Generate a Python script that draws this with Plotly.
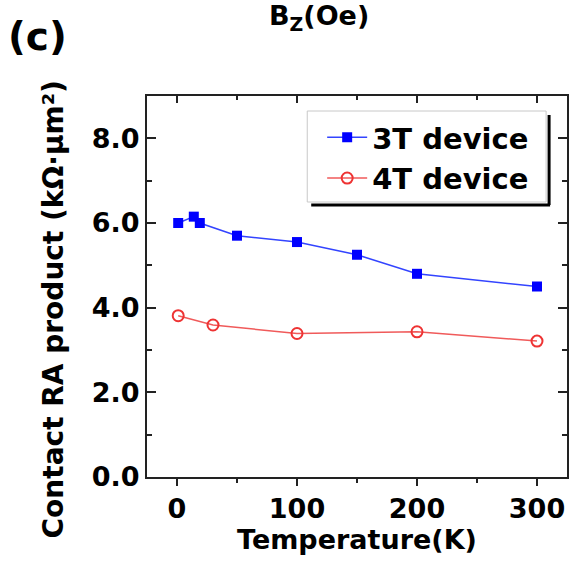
import plotly.graph_objects as go

# Data
t3_temp = [1, 14, 19, 50, 100, 150, 200, 300]
t3_ra = [6.0, 6.15, 6.0, 5.7, 5.55, 5.25, 4.8, 4.5]
t4_temp = [1, 30, 100, 200, 300]
t4_ra = [3.81, 3.59, 3.39, 3.43, 3.21]

x_range = [-25, 325]
y_range = [0, 9]

FONT = "DejaVu Sans"

fig = go.Figure()
fig.add_trace(go.Scatter(
    x=t3_temp, y=t3_ra, mode="lines+markers", name="3T device",
    line=dict(color="#3344ff", width=1.5),
    marker=dict(symbol="square", size=10, color="#0000ff"),
))
fig.add_trace(go.Scatter(
    x=t4_temp, y=t4_ra, mode="lines+markers", name="4T device",
    line=dict(color="#f05a5a", width=1.5),
    marker=dict(symbol="circle-open", size=11, color="#ee3333", line=dict(width=2)),
))
# invisible trace so that the top (mirror) x axis is drawn
fig.add_trace(go.Scatter(
    x=t3_temp, y=t3_ra, xaxis="x2", yaxis="y", mode="markers",
    marker=dict(opacity=0), showlegend=False, hoverinfo="skip",
))

L, R, T, B = 147, 2, 96, 86
W, H = 571, 563
pw = W - L - R
ph = H - T - B

def px2x(p):
    return (p - L) / pw

def px2y(p):
    return (H - B - p) / ph

fig.update_layout(
    width=W, height=H,
    margin=dict(l=L, r=R, t=T, b=B),
    paper_bgcolor="white", plot_bgcolor="white",
    font=dict(family=FONT, color="black", weight="bold"),
    showlegend=True,
    legend=dict(
        x=px2x(323), y=px2y(112), xanchor="left", yanchor="top",
        bgcolor="rgba(0,0,0,0)", borderwidth=0,
        font=dict(size=29, family=FONT, weight="bold"),
        itemwidth=40, tracegroupgap=0,
    ),
    xaxis=dict(
        range=x_range, dtick=100, tick0=0,
        ticks="outside", ticklen=7, tickwidth=2, tickcolor="#222",
        minor=dict(dtick=50, ticks="outside", ticklen=4, tickwidth=2, tickcolor="#222"),
        showline=True, linecolor="#222", linewidth=2, mirror=False,
        showgrid=False, zeroline=False,
        tickfont=dict(size=27, family=FONT, weight="bold"),
        title=dict(text="Temperature(K)", font=dict(size=27, family=FONT, weight="bold"), standoff=6),
    ),
    xaxis2=dict(
        range=x_range, dtick=100, tick0=0, overlaying="x", side="top", anchor="y",
        ticks="inside", ticklen=7, tickwidth=2, tickcolor="#222",
        minor=dict(dtick=50, ticks="inside", ticklen=4, tickwidth=2, tickcolor="#222"),
        showline=True, linecolor="#222", linewidth=2,
        showticklabels=False, showgrid=False, zeroline=False,
    ),
    yaxis=dict(
        range=y_range, dtick=2, tick0=0, tickformat=".1f",
        ticks="inside", ticklen=9, tickwidth=2, tickcolor="#222",
        minor=dict(dtick=1, ticks="inside", ticklen=5, tickwidth=2, tickcolor="#222"),
        showline=True, linecolor="#222", linewidth=2, mirror="ticks",
        showgrid=False, zeroline=False,
        tickfont=dict(size=27, family=FONT, weight="bold"),
    ),
)

# y axis title (placed as in the reference, slightly below the axis centre)
fig.add_annotation(text="Contact RA product (kΩ·μm²)", xref="paper", yref="paper",
                   x=px2x(53), y=px2y(309), xanchor="center", yanchor="middle",
                   textangle=-90, showarrow=False,
                   font=dict(size=28, family=FONT, weight="bold"))

# legend box and drop shadow
fig.add_shape(type="rect", xref="paper", yref="paper",
              x0=px2x(308), x1=px2x(548), y0=px2y(202), y1=px2y(111),
              line=dict(color="#c8c8c8", width=1), fillcolor="white", layer="above")
fig.add_shape(type="line", xref="paper", yref="paper",
              x0=px2x(551), x1=px2x(551), y0=px2y(115), y1=px2y(205),
              line=dict(color="black", width=3))
fig.add_shape(type="line", xref="paper", yref="paper",
              x0=px2x(312), x1=px2x(552), y0=px2y(205), y1=px2y(205),
              line=dict(color="black", width=3))

fig.add_annotation(text="(c)", xref="paper", yref="paper", x=px2x(37), y=px2y(37),
                   xanchor="center", yanchor="middle", showarrow=False,
                   font=dict(size=39, family=FONT, weight="bold"))
fig.add_annotation(text="B<sub>Z</sub>(Oe)", xref="paper", yref="paper", x=px2x(320), y=px2y(18),
                   xanchor="center", yanchor="middle", showarrow=False,
                   font=dict(size=27, family=FONT, weight="bold"))

fig.write_html("out.html")
